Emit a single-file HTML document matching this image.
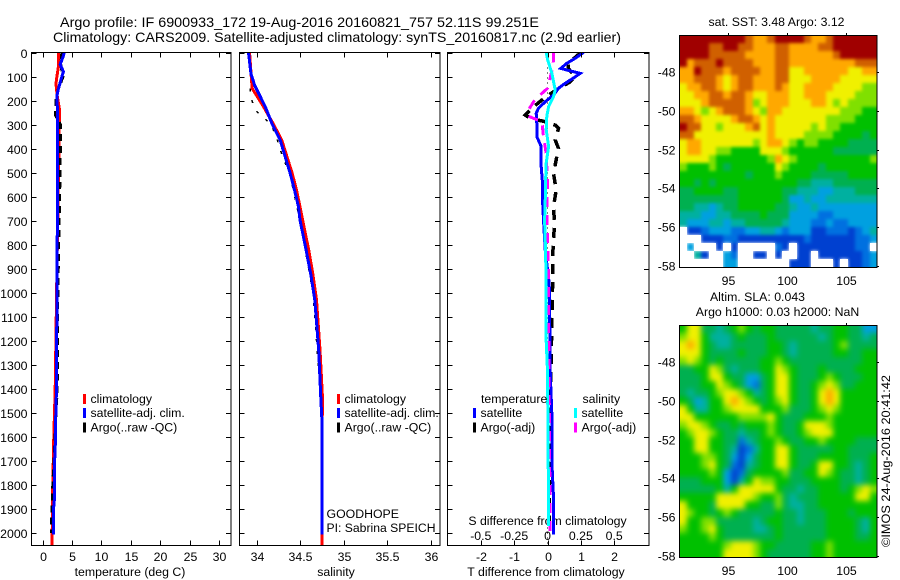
<!DOCTYPE html>
<html>
<head>
<meta charset="utf-8">
<title>Argo profile</title>
<style>
html,body{margin:0;padding:0;background:#fff;}
svg{display:block;}
text{font-family:"Liberation Sans",sans-serif;font-size:12.3px;fill:#000;}
</style>
</head>
<body>
<svg id="fig" xmlns="http://www.w3.org/2000/svg" width="900" height="580" viewBox="0 0 900 580">
<defs>
<filter id="blurSst" filterUnits="userSpaceOnUse" x="640" y="0" width="260" height="300" color-interpolation-filters="sRGB"><feGaussianBlur stdDeviation="1.7"/></filter>
<filter id="blurSla" filterUnits="userSpaceOnUse" x="640" y="290" width="260" height="290" color-interpolation-filters="sRGB"><feGaussianBlur stdDeviation="2.9"/></filter>
<clipPath id="clipSst"><rect x="680" y="35" width="197" height="232"/></clipPath>
<clipPath id="clipSla"><rect x="680" y="325" width="197" height="232"/></clipPath>
</defs>
<rect width="900" height="580" fill="#fff"/>
<text x="60" y="27" style="font-size:14px" textLength="479" lengthAdjust="spacingAndGlyphs">Argo profile: IF 6900933_172 19-Aug-2016 20160821_757 52.11S 99.251E</text>
<text x="53" y="42" style="font-size:14px" textLength="568" lengthAdjust="spacingAndGlyphs">Climatology: CARS2009. Satellite-adjusted climatology: synTS_20160817.nc (2.9d earlier)</text>
<text x="130" y="576" text-anchor="middle">temperature (deg C)</text>
<text x="336" y="576" text-anchor="middle">salinity</text>
<text x="546" y="576" text-anchor="middle">T difference from climatology</text>
<text x="547.5" y="525" text-anchor="middle">S difference from climatology</text>
<text x="326.5" y="518">GOODHOPE</text>
<text x="326.5" y="532" textLength="109" lengthAdjust="spacingAndGlyphs">PI: Sabrina SPEICH</text>
<text x="776.5" y="26" text-anchor="middle">sat. SST: 3.48 Argo: 3.12</text>
<text x="757.5" y="301" text-anchor="middle">Altim. SLA: 0.043</text>
<text x="777.5" y="316" text-anchor="middle">Argo h1000: 0.03 h2000: NaN</text>
<text transform="translate(890,547) rotate(-90)" textLength="172" lengthAdjust="spacingAndGlyphs">©IMOS 24-Aug-2016 20:41:42</text>
</svg>
<script>
// ---------- chart data ----------
const depthTicks = [0,100,200,300,400,500,600,700,800,900,1000,1100,1200,1300,1400,1500,1600,1700,1800,1900,2000];
const tempTicks = [0,5,10,15,20,25,30];
const salTicks = [34,34.5,35,35.5,36];
const salTickLabels = ['34','34.5','35','35.5','36'];
const tDiffTicks = [-2,-1,0,1,2];
const sDiffTickLabels = ['-0.5','-0.25','0','0.25','0.5'];
const sDiffTicks = [-0.5,-0.25,0,0.25,0.5];
const lonTicks = [95,100,105];
const latTicks = [-48,-50,-52,-54,-56,-58];

const climTempDepth = [0,60,100,130,180,240,300,400,600,1000,1400,1600,1800,2000,2055];
const climTempValue = [2.7,2.7,2.45,2.3,2.5,2.9,2.85,2.8,2.65,2.4,2.16,1.93,1.75,1.65,1.6];
const satTempDepth = [0,20,50,80,100,150,180,250,600,1000,1400,1500,1650,1700,1850,1900,2005];
const satTempValue = [3.7,3.47,3.0,3.57,3.3,2.72,2.45,2.55,2.55,2.45,2.38,2.27,2.16,2.05,2.05,1.87,1.87];
const argoTempDepth = [0,50,100,150,200,260,300,400,600,1000,1400,1800,1950,2000];
const argoTempValue = [3.3,3.1,3.5,2.7,2.3,2.2,3.05,3.05,2.9,2.6,2.5,1.75,1.55,1.55];

const climSalDepth = [0,135,150,225,295,364,434,503,572,642,697,822,926,1030,1238,1446,1520,2055];
const climSalValue = [33.92,33.947,33.95,34.08,34.19,34.29,34.35,34.41,34.46,34.50,34.53,34.60,34.65,34.69,34.73,34.76,34.755,34.75];
const satSalDepth = [0,87,135,225,295,364,434,503,572,642,697,822,926,1030,1238,1446,1520,2005];
const satSalValue = [33.908,33.936,33.977,34.10,34.177,34.272,34.33,34.387,34.437,34.483,34.50,34.57,34.625,34.67,34.715,34.74,34.75,34.75];
const argoSalDepth = [0,87,135,180,220,245,300,364,434,503,700,1000,1500,2000];
const argoSalValue = [33.93,33.94,33.93,33.93,33.965,34.0,34.17,34.24,34.30,34.38,34.50,34.65,34.75,34.75];

const tDiffSatDepth = [0,24,45,66,73,87,107,128,149,177,205,232,253,295,350,391,475,544,614,697,822,960,1030,1325,1363,1500,1700,1850,2005];
const tDiffSatValue = [1.08,0.83,0.58,0.40,0.58,0.98,0.77,0.53,0.33,0.18,-0.07,-0.27,-0.34,-0.32,-0.32,-0.19,-0.19,-0.15,-0.15,-0.12,-0.07,0.05,0.06,0.08,0.09,0.13,0.13,0.18,0.18];
const tDiffArgoDepth = [0,45,66,100,125,149,190,232,260,274,288,302,316,364,399,433,468,503,572,642,710,835,988,1350,1600,2000];
const tDiffArgoValue = [1.0,0.62,0.62,0.83,0.65,0.33,-0.1,-0.47,-0.67,-0.52,-0.07,0.23,0.33,0.23,0.33,0.28,0.23,0.18,0.26,0.18,0.21,0.16,0.15,0.10,0.07,0.05];
const sDiffSatDepth = [0,28,87,156,184,225,265,320,391,460,544,628,697,822,960,1200,1325,1917,1970];
const sDiffSatValue = [-0.01,0,0.033,0.058,0.045,0.008,-0.005,-0.01,0.008,-0.01,-0.015,-0.017,-0.022,-0.015,-0.01,-0.01,0,0.008,0.008];
const sDiffArgoDepth = [0,28,60,117,149,177,205,240,265,288,350,420,544,710,835,1200,1600,2000];
const sDiffArgoValue = [0.045,0.045,0.04,0.015,0.0,-0.055,-0.105,-0.143,-0.143,-0.042,-0.03,-0.01,0,-0.005,0.005,0.01,0.015,0.02];

// SST map colour-level grid, rows north to south, -1 = no data
const sstLevels = [
[11,11,11,11,11,11,11,11,11,10,9,9,10,11,11,11,11,10,9,9,10,11,11,11,11,11,11],
[11,11,11,11,10,10,11,11,10,10,9,9,9,10,10,9,9,9,9,10,10,11,11,11,11,11,11],
[11,11,11,11,10,10,10,10,10,9,9,9,9,10,10,9,9,9,9,9,9,10,11,11,11,11,11],
[11,9,10,10,10,11,10,10,10,10,9,9,9,10,10,9,9,9,9,9,9,9,9,9,10,10,10],
[9,9,11,10,10,10,9,10,10,10,10,9,9,10,10,8,8,9,9,9,9,9,9,8,8,9,9],
[9,9,10,10,10,9,8,9,10,10,9,9,9,10,10,8,8,8,9,9,9,9,8,8,8,8,8],
[8,9,9,10,10,9,8,9,10,10,9,9,9,10,9,8,8,9,9,9,9,8,8,8,8,7,7],
[8,8,9,9,10,10,9,10,10,9,8,8,9,9,9,8,8,9,9,9,8,8,8,8,7,7,7],
[8,8,8,9,10,10,10,10,10,9,7,8,9,9,9,8,8,8,9,9,8,7,8,7,7,7,7],
[9,9,8,7,8,9,10,10,10,9,8,7,9,9,8,8,8,8,8,8,8,8,7,7,7,6,6],
[10,10,9,8,8,8,8,9,10,10,9,8,9,8,8,8,8,8,8,8,7,7,7,7,6,6,6],
[11,10,10,8,8,7,8,8,8,9,10,8,9,8,8,8,8,8,7,8,7,7,6,6,6,6,6],
[10,10,8,8,8,8,8,8,8,8,8,8,9,8,8,8,8,7,7,7,7,6,6,6,6,5,6],
[8,9,9,8,8,8,8,8,8,8,7,8,9,9,8,7,6,7,7,6,6,6,6,5,5,5,5],
[8,9,9,8,8,7,7,6,6,6,6,8,8,8,7,6,6,6,6,6,6,5,5,5,5,5,5],
[8,8,8,8,7,6,6,6,6,6,6,6,7,9,8,7,6,6,6,6,6,6,6,6,6,6,7],
[7,6,6,6,7,6,5,6,6,6,6,6,6,8,7,6,6,6,6,5,6,6,6,6,6,6,6],
[6,6,6,6,6,6,6,6,6,5,6,6,6,7,6,6,6,6,5,5,5,5,5,6,6,6,6],
[6,6,5,6,5,6,6,6,6,6,6,6,6,6,6,6,5,5,4,4,4,5,5,5,5,5,5],
[5,5,6,6,6,6,5,5,6,6,6,6,6,6,5,5,4,4,4,3,3,4,4,4,5,5,5],
[5,5,5,5,5,5,5,5,6,6,6,6,6,6,5,3,3,4,3,3,4,4,4,4,4,4,4],
[5,5,4,4,3,4,5,5,6,6,6,6,6,5,5,4,3,3,4,3,3,3,3,3,3,3,3],
[4,4,4,3,3,4,4,5,5,5,5,6,5,5,5,3,3,3,3,2,2,3,3,3,3,3,3],
[4,3,3,3,4,4,3,4,4,5,5,5,5,5,4,3,3,3,2,2,3,2,2,3,3,3,3],
[-1,1,1,2,3,3,3,2,2,3,3,4,4,3,2,3,3,3,1,1,2,2,2,1,2,3,4],
[-1,-1,-1,1,1,1,2,2,1,1,1,1,1,1,1,1,1,2,1,1,1,1,1,1,2,2,3],
[-1,3,-1,-1,-1,1,-1,1,-1,-1,-1,-1,-1,2,1,-1,1,1,1,1,1,1,1,1,2,2,-1],
[-1,-1,4,1,-1,-1,3,2,-1,-1,1,1,-1,1,-1,-1,1,1,-1,1,1,1,1,1,1,2,3],
[-1,-1,-1,-1,-1,-1,3,3,-1,-1,-1,-1,-1,-1,-1,1,1,1,-1,-1,-1,1,-1,1,1,2,3]
];
// SLA map colour-level grid, rows north to south
const slaLevels = [
[6,8,8,5,5,4,5,6,7,6,5,6,6,5,5,5,5,5,4,5,5,6,6,5,5,3,3],
[7,8,8,6,4,4,4,5,6,5,5,5,6,5,5,5,5,5,5,4,5,6,6,5,5,4,5],
[8,9,8,6,5,4,4,5,5,5,5,5,6,6,5,4,5,5,5,5,5,6,7,5,5,5,5],
[8,8,8,6,5,5,5,5,6,5,5,5,6,6,5,4,5,5,5,5,5,6,6,5,5,6,6],
[7,8,7,6,5,6,5,5,5,5,5,6,6,7,6,5,5,5,5,5,5,5,5,5,5,6,6],
[5,5,6,6,8,7,5,4,5,5,5,6,6,8,7,6,5,5,5,6,5,5,5,5,6,6,6],
[5,5,5,6,8,8,6,5,5,3,3,5,6,8,8,6,5,5,5,6,7,6,5,5,5,6,6],
[5,5,5,6,6,8,7,6,5,3,2,5,6,8,8,6,5,5,6,7,8,7,5,5,6,6,6],
[5,4,5,5,6,7,8,8,7,6,4,5,6,8,8,6,5,5,6,8,9,8,6,6,6,6,6],
[6,5,3,4,6,6,8,9,8,7,6,5,6,7,8,6,5,5,6,8,9,8,6,6,6,6,6],
[8,6,4,4,6,6,7,8,8,8,8,6,6,6,7,5,5,5,6,7,8,7,6,6,6,6,6],
[8,8,6,6,6,6,6,6,7,7,7,7,8,6,5,5,5,6,6,6,7,6,6,6,6,6,6],
[7,8,8,7,6,5,5,6,5,6,6,6,7,6,5,5,6,8,8,8,7,6,6,6,6,6,6],
[6,7,8,8,7,6,5,5,4,5,5,6,7,6,5,5,6,7,8,8,8,6,6,6,6,6,6],
[6,6,8,8,6,6,5,5,2,4,5,6,6,7,6,5,5,6,6,7,6,6,6,6,5,5,5],
[6,6,8,8,6,6,5,4,1,2,4,6,6,8,8,6,5,5,5,5,5,6,6,5,5,5,5],
[6,6,6,7,7,6,5,3,1,3,5,6,6,8,8,6,5,5,5,6,6,6,6,5,5,5,6],
[6,6,6,7,8,6,5,2,1,4,5,6,6,8,8,6,5,5,6,8,8,6,6,5,4,5,6],
[6,6,6,6,7,6,3,1,2,5,6,6,6,6,7,5,5,6,6,8,7,6,5,5,4,5,6],
[5,5,5,6,6,6,3,1,4,6,8,7,7,6,6,5,5,5,6,6,6,6,5,5,4,5,6],
[5,5,5,5,5,6,4,6,8,8,8,8,8,6,5,5,4,5,5,6,6,6,5,6,7,8,7],
[6,6,6,6,6,8,8,8,8,8,7,6,6,7,5,4,5,5,5,6,6,6,6,6,8,8,6],
[8,6,6,6,5,8,8,8,8,6,6,5,5,7,5,4,4,5,5,6,6,6,6,6,6,6,6],
[8,7,6,6,5,6,7,6,5,5,5,5,5,6,5,5,4,5,5,5,6,6,6,5,6,6,6],
[8,6,6,7,7,5,5,5,5,5,4,5,6,6,5,5,4,5,5,5,6,6,6,6,5,4,6],
[7,6,6,7,8,6,5,5,5,5,4,4,5,6,5,5,5,5,5,5,6,6,6,6,5,4,6],
[6,6,6,6,7,6,5,5,5,5,5,5,5,6,5,5,5,5,5,5,6,6,6,6,5,5,6],
[6,6,6,6,6,6,7,8,8,8,7,6,6,5,5,5,5,5,6,6,7,6,6,6,6,6,6],
[6,6,6,6,6,6,8,8,8,8,7,6,5,5,5,5,5,5,6,6,7,6,6,6,6,6,6]
];
const levelColours = ['#00007f','#0040d0','#0070e0','#00a0e0','#00b0a0','#00b050','#00c000','#80e000','#f0f000','#ffa800','#d06000','#a00000'];

// ---------- scales ----------
const NS = 'http://www.w3.org/2000/svg';
const fig = document.getElementById('fig');
const yDepth = d => 52.5 + d * 0.2403;
const xTemp = t => 42.5 + t * 5.88;
const xSal = s => 256.5 + (s - 34) * 87;
const xTDiff = t => 547.5 + t * 33.35;
const xSDiff = s => 547.5 + s * 133.4;

function mk(tag, attrs, parent) {
  const el = document.createElementNS(NS, tag);
  for (const k in attrs) el.setAttribute(k, attrs[k]);
  (parent || fig).appendChild(el);
  return el;
}
function label(txt, x, y, anchor, parent) {
  const t = mk('text', {x: x, y: y, 'text-anchor': anchor}, parent);
  t.textContent = txt;
  return t;
}
function tickLine(x1, y1, x2, y2, parent) {
  const l = mk('line', {x1: x1, y1: y1, x2: x2, y2: y2, stroke: '#000', 'stroke-width': 1, 'shape-rendering': 'crispEdges'}, parent);
  
  
}
function frame(x, y, w, h, parent) {
  const r = mk('rect', {x: x, y: y, width: w, height: h, fill: 'none', stroke: '#000', 'stroke-width': 1, 'shape-rendering': 'crispEdges'}, parent);
  
  
}
function profilePath(depths, values, xf, colour, width, dash, parent) {
  let d = '';
  for (let i = 0; i < depths.length; i++) {
    d += (i ? 'L' : 'M') + xf(values[i]).toFixed(1) + ' ' + yDepth(depths[i]).toFixed(1);
  }
  const attrs = {d: d, fill: 'none', stroke: colour, 'stroke-width': width, 'shape-rendering': 'crispEdges'};
  if (dash) attrs['stroke-dasharray'] = dash;
  return mk('path', attrs, parent);
}
function legendRow(x, yMid, colour, txt, parent) {
  const g = mk('g', {}, parent);
  
  
  mk('rect', {x: x, y: yMid - 5, width: 3, height: 10, fill: colour}, g);
  label(txt, x + 7.5, yMid + 4, 'start', g);
}
function depthAxes(left, right, parent, showLabels) {
  depthTicks.forEach(function (d) {
    const y = Math.round(yDepth(d)) + 0.5;
    tickLine(left, y, left + 5, y, parent);
    tickLine(right - 5, y, right, y, parent);
    if (showLabels) {
      const t = label(String(d), left - 4, y + 4.5, 'end', parent);
      
      
    }
  });
}
function xAxis(ticks, labels, xf, parent, labelY) {
  ticks.forEach(function (v, i) {
    const x = Math.round(xf(v)) + 0.5;
    tickLine(x, 52.5, x, 57.5, parent);
    tickLine(x, 540.5, x, 545.5, parent);
    const t = label(labels[i], x, labelY, 'middle', parent);
    
    
  });
}

// ---------- temperature panel ----------
const pT = mk('g', {});


const clipT = mk('clipPath', {id: 'clipT'}, pT);
mk('rect', {x: 31, y: 52, width: 200, height: 494}, clipT);
const gT = mk('g', {'clip-path': 'url(#clipT)'}, pT);
const p1 = profilePath(climTempDepth, climTempValue, xTemp, '#ff0000', 3, null, gT);


const p2 = profilePath(argoTempDepth, argoTempValue, xTemp, '#000', 3, '7 5', gT);


const p3 = profilePath(satTempDepth, satTempValue, xTemp, '#0000ff', 3, null, gT);


frame(31.5, 52.5, 199.5, 493, pT);
depthAxes(31.5, 231, pT, true);
xAxis(tempTicks, tempTicks.map(String), xTemp, pT, 561);
legendRow(83, 399, '#ff0000', 'climatology', pT);
legendRow(83, 413, '#0000ff', 'satellite-adj. clim.', pT);
legendRow(83, 427.5, '#000', 'Argo(..raw -QC)', pT);

// ---------- salinity panel ----------
const pS = mk('g', {});


const clipS = mk('clipPath', {id: 'clipS'}, pS);
mk('rect', {x: 239, y: 52, width: 201, height: 494}, clipS);
const gS = mk('g', {'clip-path': 'url(#clipS)'}, pS);
const p4 = profilePath(argoSalDepth, argoSalValue, xSal, '#000', 1.5, '3 9', gS);


const p5 = profilePath(climSalDepth, climSalValue, xSal, '#ff0000', 3, null, gS);


const p6 = profilePath(satSalDepth, satSalValue, xSal, '#0000ff', 3, null, gS);


frame(239.5, 52.5, 200.5, 493, pS);
depthAxes(239.5, 440, pS, false);
xAxis(salTicks, salTickLabels, xSal, pS, 561);
legendRow(337, 399, '#ff0000', 'climatology', pS);
legendRow(337, 413, '#0000ff', 'satellite-adj. clim.', pS);
legendRow(337, 427.5, '#000', 'Argo(..raw -QC)', pS);

// ---------- difference panel ----------
const pD = mk('g', {});


const clipD = mk('clipPath', {id: 'clipD'}, pD);
mk('rect', {x: 447, y: 52, width: 202, height: 494}, clipD);
const gD = mk('g', {'clip-path': 'url(#clipD)'}, pD);
const zeroLine = mk('line', {x1: xTDiff(0), y1: yDepth(0), x2: xTDiff(0), y2: 546, stroke: '#000', 'stroke-width': 1, 'stroke-dasharray': '1 4', 'shape-rendering': 'crispEdges'}, gD);


const p7 = profilePath(tDiffArgoDepth, tDiffArgoValue, xTDiff, '#000', 3.5, '10 8', gD);


const p8 = profilePath(tDiffSatDepth, tDiffSatValue, xTDiff, '#0000ff', 3, null, gD);


const p9 = profilePath(sDiffArgoDepth, sDiffArgoValue, xSDiff, '#ff00ff', 3, '10 8', gD);


const p10 = profilePath(sDiffSatDepth, sDiffSatValue, xSDiff, '#00ffff', 3, null, gD);


frame(447.5, 52.5, 201.5, 493, pD);
depthAxes(447.5, 649, pD, false);
xAxis(tDiffTicks, tDiffTicks.map(String), xTDiff, pD, 561);
sDiffTicks.forEach(function (v, i) {
  const t = label(sDiffTickLabels[i], xSDiff(v), 540, 'middle', pD);
  
  
});
const hT = label('temperature', 481, 403, 'start', pD);


const hS = label('salinity', 582.5, 403, 'start', pD);


legendRow(473, 413, '#0000ff', 'satellite', pD);
legendRow(473, 427.5, '#000', 'Argo(-adj)', pD);
legendRow(574, 413, '#00ffff', 'satellite', pD);
legendRow(574, 427.5, '#ff00ff', 'Argo(-adj)', pD);

// ---------- maps ----------
const MAP_X = 679.5, MAP_W = 197.5, MAP_H = 232;
const xLon = lon => 727.5 + (lon - 95) * 11.8;
function drawMap(levels, top, lat48Y, name, clipId, filterId) {
  const g = mk('g', {});
  
  
  const clipped = mk('g', {'clip-path': 'url(#' + clipId + ')'}, g);
  const soft = mk('g', {filter: 'url(#' + filterId + ')'}, clipped);
  const sharp = mk('g', {}, clipped);
  const rows = levels.length;
  const cols = levels[0].length;
  const cw = MAP_W / cols;
  const ch = MAP_H / rows;
  levels.forEach(function (row, r) {
    row.forEach(function (v, c) {
      let x0 = Math.round(MAP_X + c * cw);
      let x1 = Math.round(MAP_X + (c + 1) * cw);
      let y0 = Math.round(top + r * ch);
      let y1 = Math.round(top + (r + 1) * ch);
      const isSoft = v > 0;
      // outer cells run past the frame so the softening does not fade at the edges
      if (isSoft && c === 0) x0 -= 12;
      if (isSoft && c === cols - 1) x1 += 12;
      if (isSoft && r === 0) y0 -= 12;
      if (isSoft && r === rows - 1) y1 += 12;
      const cell = mk('rect', {x: x0, y: y0, width: x1 - x0, height: y1 - y0, fill: v < 0 ? '#ffffff' : levelColours[v], 'shape-rendering': 'crispEdges'}, isSoft ? soft : sharp);
      
      
    });
  });
  frame(679.5, top + 0.5, 197.5, MAP_H, g);
  latTicks.forEach(function (lat) {
    const y = Math.round(lat48Y + (-48 - lat) * 19.4) + 0.5;
    tickLine(877, y, 879, y, g);
    const t = label(String(lat), 675.5, y + 4, 'end', g);
    
    
  });
  lonTicks.forEach(function (lon) {
    const x = Math.round(xLon(lon)) + 0.5;
    tickLine(x, top - 2, x, top, g);
    const t = label(String(lon), x, top + MAP_H + 18, 'middle', g);
    
    
  });
}
drawMap(sstLevels, 35, 72, 'sst-map', 'clipSst', 'blurSst');
drawMap(slaLevels, 325, 362, 'sla-map', 'clipSla', 'blurSla');
</script>
</body>
</html>
